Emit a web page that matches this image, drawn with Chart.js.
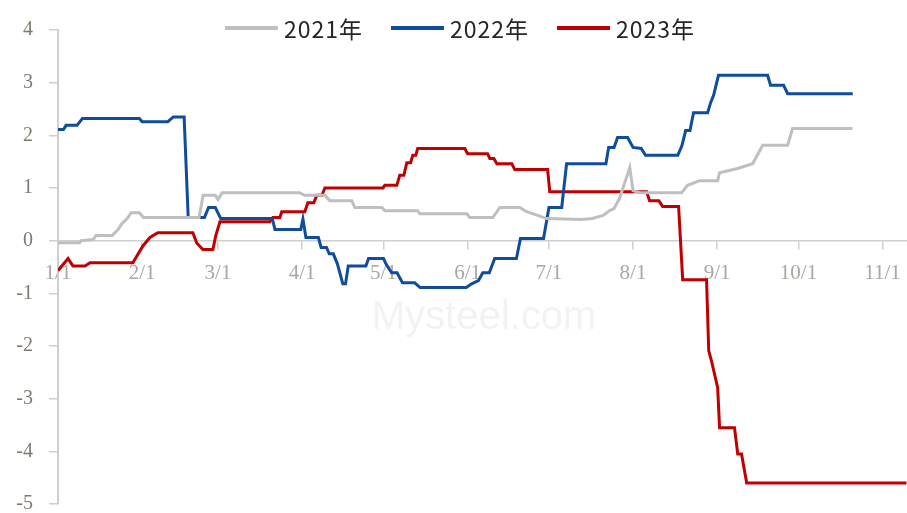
<!DOCTYPE html>
<html lang="zh-CN">
<head>
    <meta charset="UTF-8">
    <title>价差走势</title>
    <style>
        html, body { margin: 0; padding: 0; background: #fff; }
        #grafico { width: 907px !important; height: 513px !important; display: block; }
    </style>
</head>
<body>
    <canvas id="grafico" width="907" height="513"></canvas>
    <script src="https://cdn.jsdelivr.net/npm/chart.js"></script>
    <script>
        // eixo x em dias desde 1/1
        const diasMes = [0, 31, 59, 90, 120, 151, 181, 212, 243, 273, 304]
        const rotulosMes = ['1/1', '2/1', '3/1', '4/1', '5/1', '6/1', '7/1', '8/1', '9/1', '10/1', '11/1']
        const rotulosY = [4, 3, 2, 1, 0, -1, -2, -3, -4, -5]

        const series = ['2021年', '2022年', '2023年']

        const dias2021 = [0, 8, 8.5, 13, 14, 20, 22, 23.5, 25.5, 27, 30, 31.5, 52, 53.5, 58, 59, 60.5, 89, 91, 98.4, 100.2, 108.3, 109.4, 119.4, 120.5, 132.6, 133.4, 150.7, 151.8, 160.3, 162.9, 170.2, 172.8, 180.2, 193, 197, 201, 203.4, 205, 207, 210.8, 212, 214.5, 229.9, 232.1, 236.6, 243.2, 243.9, 250.5, 256.1, 259.8, 269, 270.8, 292.9]
        const vals2021 = [-0.04, -0.04, 0, 0.02, 0.1, 0.1, 0.2, 0.32, 0.42, 0.53, 0.53, 0.44, 0.44, 0.86, 0.86, 0.78, 0.91, 0.91, 0.86, 0.86, 0.76, 0.76, 0.63, 0.63, 0.57, 0.57, 0.51, 0.51, 0.44, 0.44, 0.63, 0.63, 0.55, 0.42, 0.4, 0.42, 0.48, 0.57, 0.61, 0.8, 1.39, 0.95, 0.91, 0.91, 1.05, 1.14, 1.14, 1.29, 1.37, 1.46, 1.81, 1.81, 2.13, 2.13]

        const dias2022 = [0, 2, 3, 7, 9, 30, 31, 40.5, 42.5, 46.5, 48, 54, 55.5, 58, 60, 79, 80, 89.5, 90.3, 91.4, 96, 97, 99, 100, 101.5, 103, 105, 106, 107, 113.5, 114.5, 120, 121, 123, 125, 127, 131.5, 133.5, 150.5, 152.5, 155, 156.6, 159, 161, 169, 170.5, 179, 181, 185.7, 187.5, 202, 203, 205, 206.3, 210, 212, 215, 216.6, 228.5, 230, 231.4, 233, 234.3, 239.5, 240.6, 241.7, 243.5, 261.6, 262.7, 267.5, 269, 293]
        const vals2022 = [2.11, 2.11, 2.19, 2.19, 2.32, 2.32, 2.26, 2.26, 2.35, 2.35, 0.44, 0.44, 0.63, 0.63, 0.42, 0.42, 0.21, 0.21, 0.41, 0.06, 0.06, -0.13, -0.13, -0.25, -0.25, -0.44, -0.82, -0.82, -0.48, -0.48, -0.34, -0.34, -0.45, -0.61, -0.61, -0.8, -0.8, -0.89, -0.89, -0.82, -0.76, -0.61, -0.61, -0.34, -0.34, 0.04, 0.04, 0.63, 0.63, 1.46, 1.46, 1.77, 1.77, 1.96, 1.96, 1.77, 1.75, 1.62, 1.62, 1.8, 2.09, 2.09, 2.43, 2.43, 2.62, 2.76, 3.14, 3.14, 2.95, 2.95, 2.79, 2.79]

        const dias2023 = [0, 3.7, 5.5, 10, 11.8, 27.6, 31.3, 33.9, 36.8, 49.7, 51.2, 53.4, 57.1, 58.2, 59.7, 78.1, 79.2, 81.8, 82.5, 91, 92.1, 94.3, 95.4, 97.3, 98.4, 119.8, 120.5, 124.9, 126, 127.5, 128.6, 130, 130.8, 131.9, 132.6, 150, 151, 158.4, 159.2, 160.7, 161.8, 167.3, 168.4, 180.5, 181.3, 217, 218.1, 221.5, 222.9, 228.8, 230.3, 239.1, 239.9, 241, 243.2, 243.9, 249.4, 250.6, 252, 253.9, 312.8]
        const vals2023 = [-0.57, -0.34, -0.48, -0.48, -0.42, -0.42, -0.1, 0.06, 0.15, 0.15, -0.05, -0.17, -0.17, 0.1, 0.36, 0.36, 0.44, 0.44, 0.55, 0.55, 0.72, 0.72, 0.86, 0.86, 1.0, 1.0, 1.05, 1.05, 1.24, 1.24, 1.48, 1.48, 1.62, 1.62, 1.75, 1.75, 1.65, 1.65, 1.56, 1.56, 1.46, 1.46, 1.35, 1.35, 0.93, 0.93, 0.76, 0.76, 0.65, 0.65, -0.74, -0.74, -2.09, -2.3, -2.79, -3.55, -3.55, -4.05, -4.05, -4.6, -4.6]

        const cores = ['#bfbfbf', '#0f4c9c', '#c00000']

        const pontos = (dias, vals) => dias.map((d, i) => ({ x: d, y: vals[i] }))

        // legenda desenhada por cima da area do grafico
        const legenda = {
            id: 'legenda',
            afterDraw(chart) {
                const c = chart.ctx
                c.save()
                c.font = '23px "Noto Sans CJK SC", "Noto Sans", sans-serif'
                c.letterSpacing = '1px'
                c.textBaseline = 'middle'
                const linha = 53, gap = 6, entre = 28
                const larguras = chart.data.datasets.map(ds => c.measureText(ds.label).width)
                const total = larguras.reduce((a, b) => a + b, 0) + chart.data.datasets.length * (linha + gap) + entre * (chart.data.datasets.length - 1)
                let x = 460 - total / 2
                const y = 28
                chart.data.datasets.forEach((ds, i) => {
                    c.strokeStyle = ds.borderColor
                    c.lineWidth = 4
                    c.beginPath()
                    c.moveTo(x, y)
                    c.lineTo(x + linha, y)
                    c.stroke()
                    x += linha + gap
                    c.fillStyle = '#262626'
                    c.fillText(ds.label, x, y + 1)
                    x += larguras[i] + entre
                })
                c.restore()
            }
        }

        const marca = {
            id: 'marca',
            beforeDatasetsDraw(chart) {
                const c = chart.ctx
                c.save()
                c.font = '40px "Liberation Sans", sans-serif'
                c.fillStyle = 'rgba(0,0,0,0.05)'
                c.textAlign = 'center'
                c.textBaseline = 'middle'
                c.fillText('Mysteel.com', 484, 318)
                c.restore()
            }
        }

        const ctx = document.getElementById('grafico')

        const grafico = new Chart(ctx, {
            type: 'line',
            data: {
                datasets: [
                    { label: series[0], data: pontos(dias2021, vals2021), borderColor: cores[0] },
                    { label: series[1], data: pontos(dias2022, vals2022), borderColor: cores[1] },
                    { label: series[2], data: pontos(dias2023, vals2023), borderColor: cores[2] }
                ]
            },
            options: {
                responsive: false,
                animation: false,
                layout: { padding: { top: 30, bottom: 9, left: 0, right: 0 } },
                elements: {
                    line: { borderWidth: 3, tension: 0 },
                    point: { radius: 0 }
                },
                plugins: {
                    legend: { display: false },
                    tooltip: { enabled: false }
                },
                scales: {
                    x: {
                        type: 'linear',
                        min: 0,
                        max: 313,
                        position: { y: 0 },
                        afterFit: s => {
                            s.paddingLeft = 0
                            s.paddingRight = 0
                        },
                        afterBuildTicks: s => { s.ticks = diasMes.map(v => ({ value: v })) },
                        ticks: {
                            autoSkip: false,
                            maxRotation: 0,
                            padding: 12,
                            color: '#aaa69f',
                            font: { family: '"Liberation Serif", serif', size: 21 },
                            callback: v => rotulosMes[diasMes.indexOf(v)]
                        },
                        grid: { drawOnChartArea: false, drawTicks: true, tickLength: 8, color: '#cfcfcf', lineWidth: 1.5 },
                        border: { color: '#cfcfcf', width: 1.5 }
                    },
                    y: {
                        min: -5,
                        max: 4,
                        afterFit: s => {
                            s.width = 58
                            s.paddingTop = 10
                            s.paddingBottom = 9
                        },
                        afterBuildTicks: s => { s.ticks = rotulosY.map(v => ({ value: v })) },
                        ticks: {
                            padding: 16,
                            color: '#80796f',
                            font: { family: '"Liberation Serif", serif', size: 20 }
                        },
                        grid: { drawOnChartArea: false, drawTicks: true, tickLength: 9, color: '#cfcfcf', lineWidth: 1.5 },
                        border: { color: '#cfcfcf', width: 2 }
                    }
                }
            },
            plugins: [marca, legenda]
        })
    </script>
</body>
</html>
